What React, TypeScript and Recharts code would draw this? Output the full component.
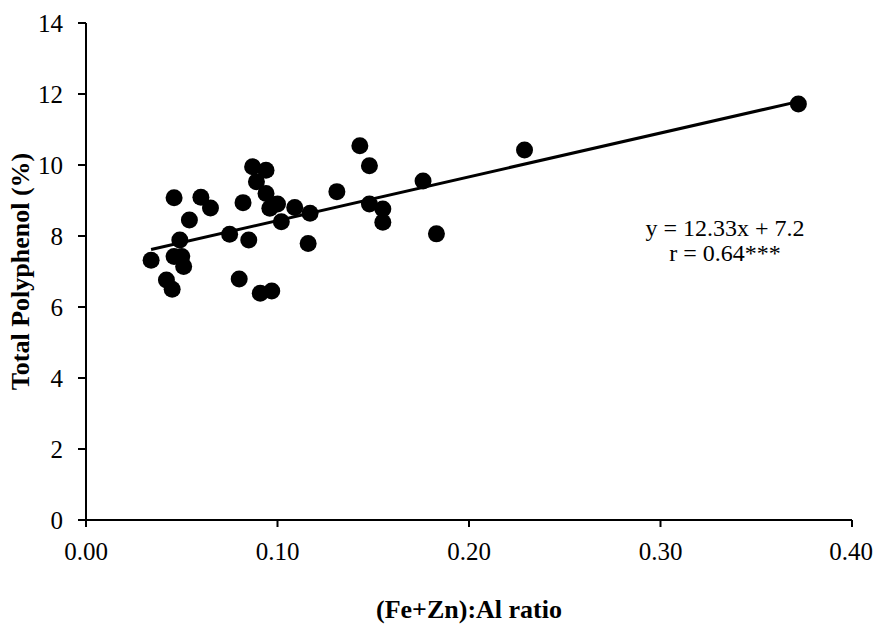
import React from 'react';
import { ScatterChart, Scatter, XAxis, YAxis, Label } from 'recharts';

// (Fe+Zn):Al ratio of each sample
const ratio = [
  0.034, 0.042, 0.045, 0.046, 0.046, 0.049, 0.050, 0.051, 0.054, 0.060,
  0.065, 0.075, 0.080, 0.082, 0.085, 0.087, 0.089, 0.091, 0.094, 0.094,
  0.097, 0.096, 0.100, 0.102, 0.109, 0.116, 0.117, 0.131, 0.143, 0.148,
  0.148, 0.155, 0.155, 0.176, 0.183, 0.229, 0.372,
];
// Total polyphenol (%) for the same samples
const polyphenol = [
  7.32, 6.76, 6.50, 9.08, 7.42, 7.89, 7.42, 7.14, 8.45, 9.09,
  8.79, 8.05, 6.79, 8.94, 7.89, 9.95, 9.53, 6.39, 9.85, 9.20,
  6.45, 8.78, 8.90, 8.40, 8.80, 7.79, 8.64, 9.25, 10.54, 8.90,
  9.98, 8.76, 8.39, 9.55, 8.06, 10.42, 11.72,
];
// end points of the drawn regression line
const trendX = [0.034, 0.373];
const trendY = [7.62, 11.80];

const xTicks = [0, 0.1, 0.2, 0.3, 0.4];
const yTicks = [0, 2, 4, 6, 8, 10, 12, 14];

const points = ratio.map((x, i) => ({ x, y: polyphenol[i] }));
const trend = trendX.map((x, i) => ({ x, y: trendY[i] }));

const font = '"Liberation Serif", "Times New Roman", serif';
const tickStyle = { fill: '#000', fontSize: 25, fontFamily: font };
const titleStyle = { fill: '#000', fontSize: 26, fontWeight: 'bold', fontFamily: font };

const Dot = (p: any) => <circle cx={p.cx} cy={p.cy} r={8.5} fill="#000" />;

export default function App() {
  return (
    <div style={{ position: 'relative', width: 873, height: 626, background: '#fff' }}>
      <style>{'body{margin:0}'}</style>
      <ScatterChart width={873} height={626} margin={{ top: 23, right: 21, left: 0, bottom: 0 }}>
        <XAxis
          type="number"
          dataKey="x"
          domain={[0, 0.4]}
          ticks={xTicks}
          tickFormatter={(v: number) => v.toFixed(2)}
          height={106}
          axisLine={{ stroke: '#000', strokeWidth: 2 }}
          tickLine={{ stroke: '#000', strokeWidth: 2 }}
          tickSize={7}
          tickMargin={15}
          tick={tickStyle}
        >
          <Label
            value="(Fe+Zn):Al ratio"
            position="insideBottom"
            offset={8}
            style={titleStyle}
          />
        </XAxis>
        <YAxis
          type="number"
          dataKey="y"
          domain={[0, 14]}
          ticks={yTicks}
          width={86}
          axisLine={{ stroke: '#000', strokeWidth: 2 }}
          tickLine={{ stroke: '#000', strokeWidth: 2 }}
          tickSize={8}
          tickMargin={15}
          tick={tickStyle}
        >
          <Label
            value="Total Polyphenol (%)"
            angle={-90}
            position="insideLeft"
            offset={20}
            style={{ ...titleStyle, textAnchor: 'middle' }}
          />
        </YAxis>
        <Scatter
          data={trend}
          line={{ stroke: '#000', strokeWidth: 3 }}
          shape={() => <g />}
          isAnimationActive={false}
        />
        <Scatter data={points} shape={Dot} isAnimationActive={false} />
      </ScatterChart>
      <div
        style={{
          position: 'absolute',
          left: 625,
          top: 216,
          width: 200,
          textAlign: 'center',
          fontFamily: font,
          fontSize: 24,
          lineHeight: '25px',
          color: '#000',
        }}
      >
        <div>y = 12.33x + 7.2</div>
        <div>r = 0.64***</div>
      </div>
    </div>
  );
}
